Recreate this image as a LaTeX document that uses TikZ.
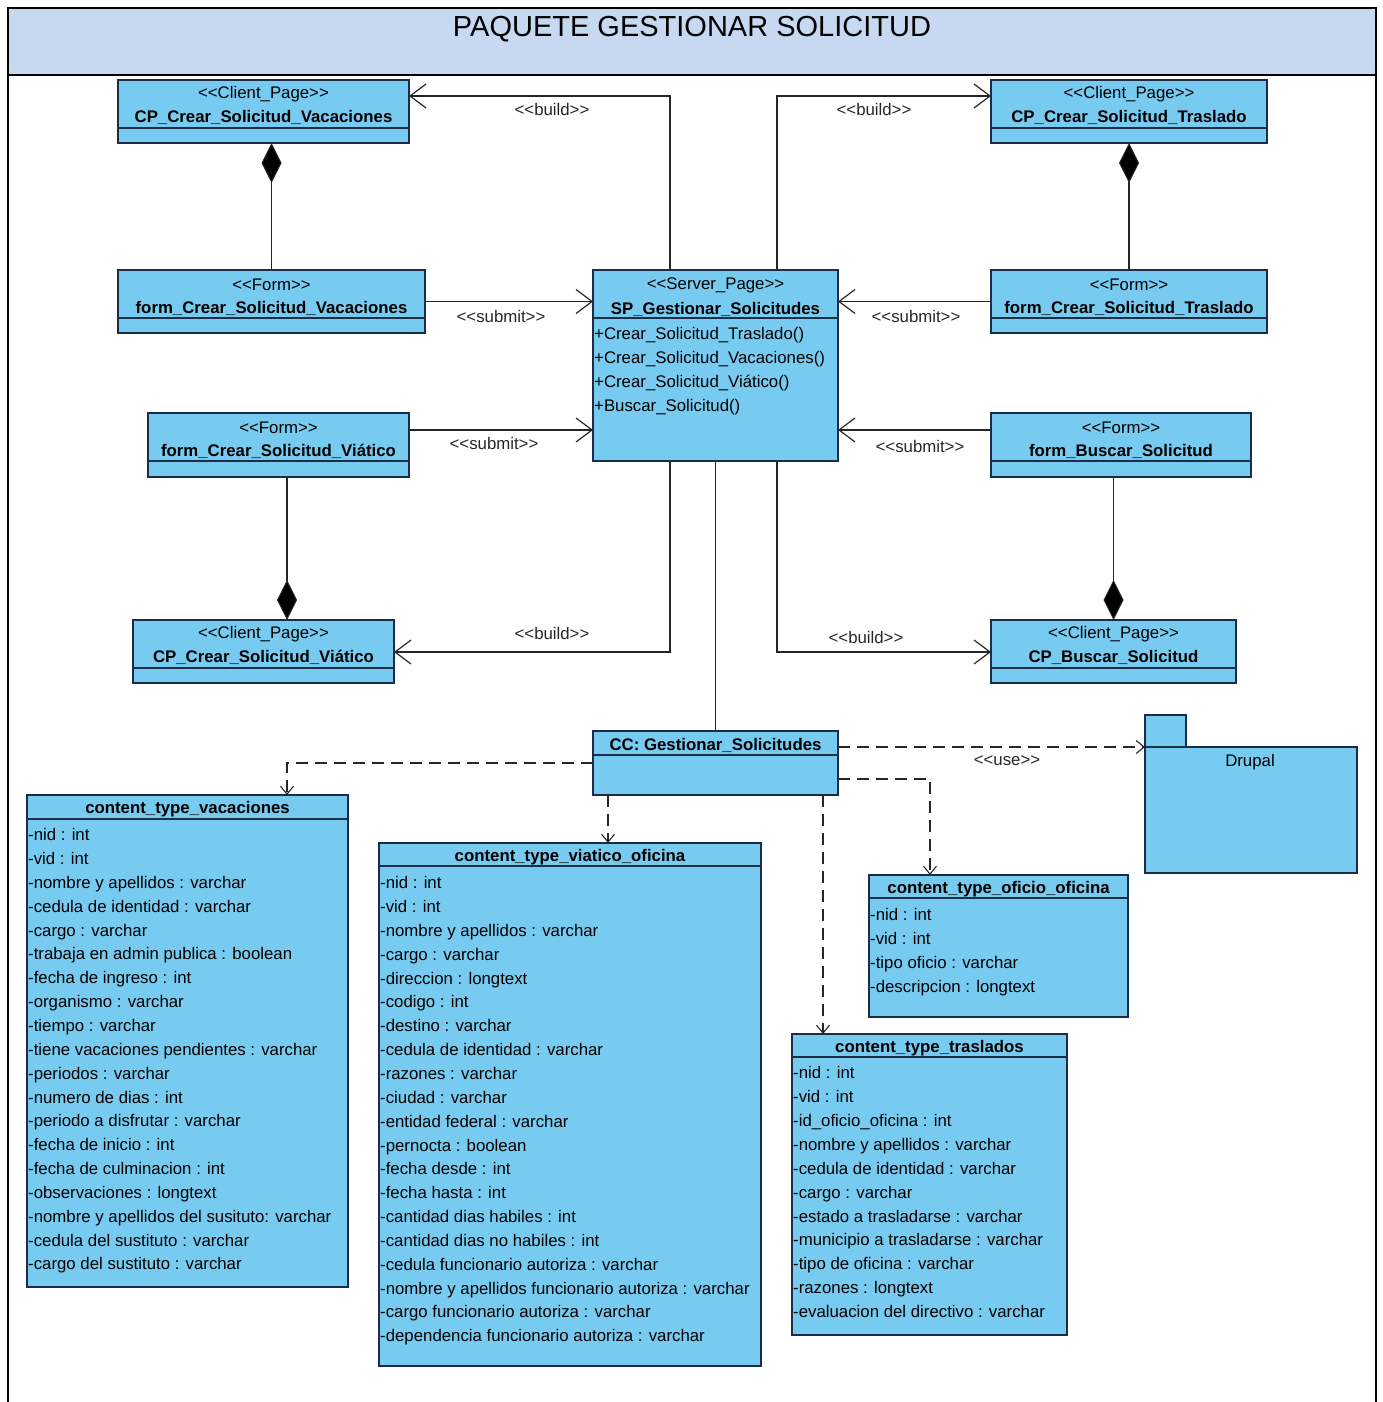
\documentclass[tikz,border=0pt]{standalone}
\usepackage{fontspec}
\setmainfont{Liberation Sans}
\usetikzlibrary{arrows.meta,calc}
\definecolor{clsfill}{RGB}{120,203,240}
\definecolor{hdrfill}{RGB}{198,217,241}
\definecolor{clsline}{RGB}{30,45,70}
\newcommand\stl{<\kern0pt<}
\newcommand\stg{>\kern0pt>}
\newcommand\umlcls[6]{%
  \node[cls, anchor=north west, minimum width={#4-#2}, minimum height={#5-#3}] (#1) at (#2,#3) {};
  \draw[sepline] (#2,#6) -- (#4,#6);
}
\begin{document}
\begin{tikzpicture}[x=1pt,y=-1pt,
  cls/.style={rectangle, draw=clsline, fill=clsfill, line width=1.3pt, inner sep=0pt, outer sep=0pt},
  sepline/.style={draw=clsline, line width=1.1pt},
  txt/.style={font=\fontsize{16.8}{20}\selectfont, inner sep=0pt, text=black},
  btxt/.style={font={\fontsize{16.8}{20}\selectfont\bfseries}, inner sep=0pt, text=black},
  attr/.style={txt, anchor=mid west},
  lbl/.style={txt, text=black!85},
  assoc/.style={line width=1.1pt, draw=black!85},
  build/.style={assoc, -{Straight Barb[length=16pt,width=24pt,line width=1.2pt]}},
  comps/.style={assoc, {Diamond[length=40pt,width=20pt,fill=black]}-},
  compe/.style={assoc, -{Diamond[length=40pt,width=20pt,fill=black]}},
  dep/.style={line width=1.1pt, draw=black!85, dash pattern=on 12pt off 7pt, -{Straight Barb[length=8pt,width=13pt]}}
]
\useasboundingbox (0,0) rectangle (1382,1402);
% frame and header
\fill[hdrfill] (8,8) rectangle (1376,75);
\draw[line width=2pt] (8,1402) -- (8,8) -- (1376,8) -- (1376,1402);
\draw[line width=2pt] (8,75) -- (1376,75);
\node[font=\fontsize{29}{34}\selectfont, inner sep=0pt] (title) at (692,29) {PAQUETE GESTIONAR SOLICITUD};

% boxes
\umlcls{cpv}{118}{80}{409}{143}{128}
\umlcls{fcv}{118}{270}{425}{333}{318}
\umlcls{sp}{593}{270}{838}{461}{318}
\umlcls{fct}{991}{270}{1267}{333}{318}
\umlcls{cpt}{991}{80}{1267}{143}{128}
\umlcls{fvi}{148}{413}{409}{477}{461}
\umlcls{fbu}{991}{413}{1251}{477}{461}
\umlcls{cpvi}{133}{620}{394}{683}{668}
\umlcls{cpb}{991}{620}{1236}{683}{668}
\umlcls{cc}{593}{731}{838}{795}{755}
\umlcls{ctv}{27}{795}{348}{1287}{819}
\umlcls{ctvi}{379}{843}{761}{1366}{866}
\umlcls{cto}{869}{875}{1128}{1017}{898}
\umlcls{ctt}{792}{1034}{1067}{1335}{1057}

% Drupal package
\node[cls, anchor=north west, minimum width=41, minimum height=32] (drtab) at (1145,715) {};
\node[cls, anchor=north west, minimum width=212, minimum height=126] (drupal) at (1145,747) {};
\node[txt] (drname) at (1250,762) {Drupal};

% headers
\node[txt] (cpvs) at ([yshift=-14pt]cpv.north) {\stl Client\_Page\stg};
\node[btxt] (cpvn) at ([yshift=-37pt]cpv.north) {CP\_Crear\_Solicitud\_Vacaciones};
\node[txt] (cpts) at ([yshift=-14pt]cpt.north) {\stl Client\_Page\stg};
\node[btxt] (cptn) at ([yshift=-37pt]cpt.north) {CP\_Crear\_Solicitud\_Traslado};
\node[txt] (fcvs) at ([yshift=-15pt]fcv.north) {\stl Form\stg};
\node[btxt] (fcvn) at ([yshift=-38pt]fcv.north) {form\_Crear\_Solicitud\_Vacaciones};
\node[txt] (fcts) at ([yshift=-15pt]fct.north) {\stl Form\stg};
\node[btxt] (fctn) at ([yshift=-38pt]fct.north) {form\_Crear\_Solicitud\_Traslado};
\node[txt] (sps) at ([yshift=-15pt]sp.north) {\stl Server\_Page\stg};
\node[btxt] (spn) at ([yshift=-39pt]sp.north) {SP\_Gestionar\_Solicitudes};
\node[txt] (fvis) at ([yshift=-15pt]fvi.north) {\stl Form\stg};
\node[btxt] (fvin) at ([yshift=-38pt]fvi.north) {form\_Crear\_Solicitud\_Viático};
\node[txt] (fbus) at ([yshift=-15pt]fbu.north) {\stl Form\stg};
\node[btxt] (fbun) at ([yshift=-38pt]fbu.north) {form\_Buscar\_Solicitud};
\node[txt] (cpvis) at ([yshift=-14pt]cpvi.north) {\stl Client\_Page\stg};
\node[btxt] (cpvin) at ([yshift=-37pt]cpvi.north) {CP\_Crear\_Solicitud\_Viático};
\node[txt] (cpbs) at ([yshift=-14pt]cpb.north) {\stl Client\_Page\stg};
\node[btxt] (cpbn) at ([yshift=-37pt]cpb.north) {CP\_Buscar\_Solicitud};
\node[btxt] (ccn) at ([yshift=-14pt]cc.north) {CC: Gestionar\_Solicitudes};
\node[btxt] (ctvn) at ([yshift=-14pt]ctv.north) {content\_type\_vacaciones};
\node[btxt] (ctvin) at ([yshift=-14pt]ctvi.north) {content\_type\_viatico\_oficina};
\node[btxt] (cton) at ([yshift=-14pt]cto.north) {content\_type\_oficio\_oficina};
\node[btxt] (cttn) at ([yshift=-14pt]ctt.north) {content\_type\_traslados};

% methods
\foreach \t [count=\i] in {+Crear\_Solicitud\_Traslado(),+Crear\_Solicitud\_Vacaciones(),+Crear\_Solicitud\_Viático(),+Buscar\_Solicitud()}
  \node[attr] (spm\i) at ($(sp.north west)+(1,{67+(\i-1)*24})$) {\t};

% attributes
\foreach \t [count=\i] in {-nid : int,-vid : int,-nombre y apellidos : varchar,-cedula de identidad : varchar,-cargo : varchar,-trabaja en admin publica : boolean,-fecha de ingreso : int,-organismo : varchar,-tiempo : varchar,-tiene vacaciones pendientes : varchar,-periodos : varchar,-numero de dias : int,-periodo a disfrutar : varchar,-fecha de inicio : int,-fecha de culminacion : int,-observaciones : longtext,-nombre y apellidos del susituto: varchar,-cedula del sustituto : varchar,-cargo del sustituto : varchar}
  \node[attr] (ctva\i) at ($(ctv.north west)+(1,{43+(\i-1)*23.85})$) {\t};

\foreach \t [count=\i] in {-nid : int,-vid : int,-nombre y apellidos : varchar,-cargo : varchar,-direccion : longtext,-codigo : int,-destino : varchar,-cedula de identidad : varchar,-razones : varchar,-ciudad : varchar,-entidad federal : varchar,-pernocta : boolean,-fecha desde : int,-fecha hasta : int,-cantidad dias habiles : int,-cantidad dias no habiles : int,-cedula funcionario autoriza : varchar,-nombre y apellidos funcionario autoriza : varchar,-cargo funcionario autoriza : varchar,-dependencia funcionario autoriza : varchar}
  \node[attr] (ctvia\i) at ($(ctvi.north west)+(1,{43+(\i-1)*23.85})$) {\t};

\foreach \t [count=\i] in {-nid : int,-vid : int,-tipo oficio : varchar,-descripcion : longtext}
  \node[attr] (ctoa\i) at ($(cto.north west)+(1,{43+(\i-1)*24})$) {\t};

\foreach \t [count=\i] in {-nid : int,-vid : int,-id\_oficio\_oficina : int,-nombre y apellidos : varchar,-cedula de identidad : varchar,-cargo : varchar,-estado a trasladarse : varchar,-municipio a trasladarse : varchar,-tipo de oficina : varchar,-razones : longtext,-evaluacion del directivo : varchar}
  \node[attr] (ctta\i) at ($(ctt.north west)+(1,{42+(\i-1)*23.9})$) {\t};

% connectors: build
\draw[build] ([xshift=77pt]sp.north west) |- ([yshift=-16pt]cpv.north east);
\draw[build] ([xshift=184pt]sp.north west) |- ([yshift=-16pt]cpt.north west);
\draw[build] ([xshift=77pt]sp.south west) |- ([yshift=-32pt]cpvi.north east);
\draw[build] ([xshift=184pt]sp.south west) |- ([yshift=-32pt]cpb.north west);
\node[lbl] (lb1) at (552,109) {\stl build\stg};
\node[lbl] (lb2) at (874,109) {\stl build\stg};
\node[lbl] (lb3) at (552,633) {\stl build\stg};
\node[lbl] (lb4) at (866,637) {\stl build\stg};

% compositions
\draw[comps] (cpv.south -| fcv.north) -- (fcv.north);
\draw[comps] (cpt.south) -- (fct.north);
\coordinate (fvix) at ([xshift=139pt]fvi.south west);
\draw[compe] (fvix) -- (fvix |- cpvi.north);
\draw[compe] (fbu.south -| cpb.north) -- (cpb.north);

% submit
\draw[build] (fcv.east) -- (fcv.east -| sp.west);
\draw[build] (fct.west) -- (fct.west -| sp.east);
\coordinate (fvisub) at ([yshift=-17pt]fvi.north east);
\draw[build] (fvisub) -- (fvisub -| sp.west);
\coordinate (fbusub) at ([yshift=-17pt]fbu.north west);
\draw[build] (fbusub) -- (fbusub -| sp.east);
\node[lbl] (ls1) at (501,316) {\stl submit\stg};
\node[lbl] (ls2) at (916,316) {\stl submit\stg};
\node[lbl] (ls3) at (494,443) {\stl submit\stg};
\node[lbl] (ls4) at (920,446) {\stl submit\stg};

% SP to CC
\draw[assoc] (sp.south) -- (cc.north);

% dependencies
\coordinate (ctvt) at ([xshift=260pt]ctv.north west);
\draw[dep] (cc.west) -| (ctvt);
\draw[dep] ([yshift=-16pt]cc.north east) -- (drupal.north west);
\node[lbl] (luse) at (1007,761) {\stl use\stg};
\coordinate (ccr2) at ([yshift=-48pt]cc.north east);
\coordinate (ctot) at ([xshift=61pt]cto.north west);
\draw[dep] (ccr2) -| (ctot);
\coordinate (ccb1) at ([xshift=15pt]cc.south west);
\draw[dep] (ccb1) -- (ccb1 |- ctvi.north);
\coordinate (ccb2) at ([xshift=-15pt]cc.south east);
\draw[dep] (ccb2) -- (ccb2 |- ctt.north);
\end{tikzpicture}
\end{document}
